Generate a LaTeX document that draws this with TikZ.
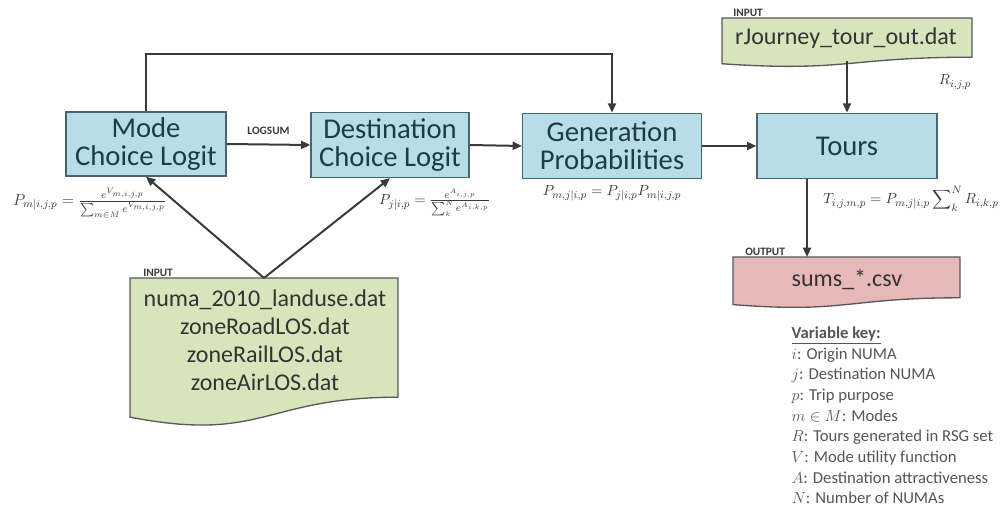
\documentclass[tikz,border=0pt]{standalone}
\usepackage{fontspec}
\setmainfont{Carlito}
\usetikzlibrary{arrows.meta, positioning, calc}
\definecolor{procfill}{HTML}{B7DDE8}
\definecolor{procline}{HTML}{4A6572}
\definecolor{infill}{HTML}{D8E4BC}
\definecolor{outfill}{HTML}{E6B8B7}
\definecolor{docline}{HTML}{595959}
\definecolor{inkdark}{HTML}{3A3A3A}
\definecolor{inkgrey}{HTML}{555555}
\definecolor{boxtext}{HTML}{1F3A48}
\newcommand{\docshape}[5]{%
  \draw[docline, line width=1pt, fill=#1]
    (#2,#3) -- (#4,#3) -- (#4,{#3+0.8*#5})
    .. controls ({(#2+#4)/2},{#3+0.8*#5}) and ({(#2+#4)/2},{#3+1.107*#5}) ..
    (#2,{#3+0.934*#5}) -- cycle;}

\begin{document}
\begin{tikzpicture}[x=0.75pt, y=-0.75pt,
  procbox/.style={draw=procline, fill=procfill, line width=1pt, align=center,
    text=boxtext, font=\fontsize{21.5}{21}\selectfont, inner sep=0pt},
  filetext/.style={align=center, text=black!80, font=\fontsize{18}{21}\selectfont},
  tagtext/.style={font=\bfseries\fontsize{8.5}{9}\selectfont, text=inkdark, inner sep=1.5pt},
  eqtext/.style={text=inkdark, font=\fontsize{11}{13}\selectfont},
  flow/.style={-{Triangle[length=7pt, width=6pt]}, line width=1.5pt, draw=inkdark}]
  \useasboundingbox (0,0) rectangle (1002,509);

  % model steps
  \node[procbox, minimum width=120pt, minimum height=48pt] (mode) at (146,144) {Mode\\Choice Logit};
  \node[procbox, minimum width=118.5pt, minimum height=48.75pt] (dest) at (390,145) {Destination\\Choice Logit};
  \node[procbox, minimum width=134pt, minimum height=49pt] (gen) at (612,146) {Generation\\Probabilities};
  \node[procbox, minimum width=135pt, minimum height=49pt] (tours) at (847,146) {Tours};

  % input and output files
  \docshape{infill}{722}{18}{972}{49}
  \node[filetext] (rjourney) at (846,38) {rJourney\_tour\_out.dat};
  \node[tagtext, anchor=south west] (rjtag) at (731,19) {INPUT};
  \coordinate (rjbot) at (847,61);

  \docshape{infill}{130}{278}{398}{149}
  \node[filetext] (landuse) at (265,340) {numa\_2010\_landuse.dat\\zoneRoadLOS.dat\\zoneRailLOS.dat\\zoneAirLOS.dat};
  \node[tagtext, anchor=south west] (intag) at (141,279) {INPUT};
  \coordinate (intop) at (264,278);

  \docshape{outfill}{733}{257}{960}{51}
  \node[filetext] (sums) at (847,280) {sums\_*.csv};
  \node[tagtext, anchor=south west] (outtag) at (743,258) {OUTPUT};
  \coordinate (outtop) at (807,257);

  % connectors
  \draw[flow] (mode.east) -- node[tagtext, above=5pt] (logsum) {LOGSUM} (dest.west);
  \draw[flow] (dest.east) -- (gen.west);
  \draw[flow] (gen.east) -- (tours.west);
  \draw[flow] (mode.north) -- ++(0,-57) -| (gen.north);
  \draw[flow] (rjbot) -- (tours.north);
  \draw[flow] (tours.south -| outtop) -- (outtop);
  \draw[flow] (intop) -- (mode.south);
  \draw[flow] (intop) -- (dest.south);

  % equations
  \node[eqtext, font=\fontsize{12}{14}\selectfont] (pmode) at (90,203) {$P_{m|i,j,p}=\frac{e^{V_{m,i,j,p}}}{\sum_{m\in M}e^{V_{m,i,j,p}}}$};
  \node[eqtext] (pdest) at (435,203) {$P_{j|i,p}=\frac{e^{A_{i,j,p}}}{\sum_{k}^{N}e^{A_{i,k,p}}}$};
  \node[eqtext] (pgen) at (612,193) {$P_{m,j|i,p}=P_{j|i,p}P_{m|i,j,p}$};
  \node[eqtext] (ttours) at (911,199) {$T_{i,j,m,p}=P_{m,j|i,p}\displaystyle\sum\nolimits_{k}^{N}R_{i,k,p}$};
  \node[eqtext] (rlabel) at (955,82) {$R_{i,j,p}$};

  % variable key
  \node[anchor=north west, align=left, text=inkgrey, font=\fontsize{12.5}{15.5}\selectfont] (key) at (787,322)
    {\underline{\textbf{Variable key:}}\\
     $i$: Origin NUMA\\
     $j$: Destination NUMA\\
     $p$: Trip purpose\\
     $m\in M$: Modes\\
     $R$: Tours generated in RSG set\\
     $V$: Mode utility function\\
     $A$: Destination attractiveness\\
     $N$: Number of NUMAs};
\end{tikzpicture}
\end{document}
